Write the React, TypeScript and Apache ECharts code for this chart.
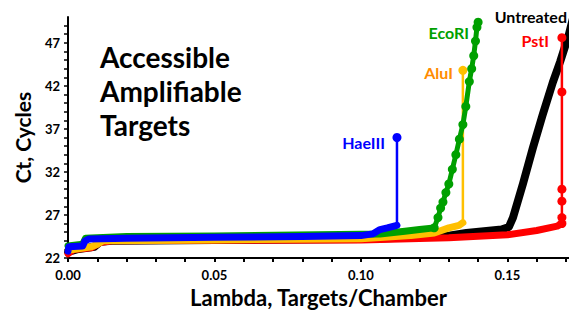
import React, { useEffect, useRef } from "react";
import * as echarts from "echarts";

// Lambda (targets/chamber) vs Ct (cycles)
const untreatedBand: number[][] = [
  [0, 22.7], [0.003, 23.0], [0.009, 23.3], [0.011, 23.9], [0.015, 24.0], [0.05, 24.1], [0.1, 24.2],
  [0.12, 24.4], [0.13, 24.6], [0.136, 24.9], [0.142, 25.1], [0.148, 25.3], [0.1505, 25.6], [0.1519, 26.7],
  [0.1553, 30.6], [0.1587, 34.8], [0.162, 38.6], [0.1655, 42.4], [0.168, 44.8], [0.171, 48.0], [0.1725, 50.0],
];
const pstIBand: number[][] = [
  [0, 22.5], [0.002, 23.0], [0.008, 23.2], [0.011, 23.8], [0.015, 24.0], [0.05, 24.05], [0.1, 24.1],
  [0.13, 24.35], [0.15, 24.7], [0.16, 25.2], [0.167, 25.7], [0.1686, 26.0],
];
const pstISpike: number[][] = [
  [0.1686, 26.0], [0.1686, 26.7], [0.1686, 28.6], [0.1686, 30.0], [0.1686, 41.3], [0.1686, 47.6],
];
const aluIBand: number[][] = [
  [0, 22.9], [0.008, 23.3], [0.010, 23.6], [0.012, 24.0], [0.05, 24.1], [0.1, 24.25], [0.117, 24.6],
  [0.125, 24.9], [0.13, 25.5], [0.1335, 25.8], [0.1348, 26.1],
];
const aluISpike: number[][] = [[0.1348, 26.1], [0.1348, 43.8]];
const ecoRIBand: number[][] = [
  [0, 23.4], [0.005, 23.6], [0.006, 24.3], [0.02, 24.5], [0.05, 24.55], [0.1, 24.75], [0.1065, 24.8],
  [0.115, 25.1], [0.12, 25.3], [0.125, 25.5],
];
const ecoRIRise: number[][] = [
  [0.125, 25.5], [0.1263, 26.7], [0.1272, 27.8], [0.128, 28.5], [0.129, 29.6], [0.130, 30.6], [0.1312, 32.3],
  [0.1324, 34.0], [0.1336, 35.8], [0.1348, 37.5], [0.1358, 39.6], [0.137, 42.5], [0.1378, 44.0],
  [0.1385, 45.5], [0.1391, 47.2], [0.1396, 48.8], [0.140, 49.4],
];
const haeIIIBand: number[][] = [
  [0, 22.8], [0.0003, 23.3], [0.005, 23.4], [0.0058, 24.0], [0.007, 24.2], [0.02, 24.3], [0.05, 24.4],
  [0.08, 24.5], [0.1, 24.6], [0.104, 24.8], [0.1065, 25.3], [0.109, 25.5], [0.1123, 25.8],
];
const haeIIISpike: number[][] = [[0.1123, 25.8], [0.1123, 36.0]];

const xMin = 0;
const xMax = 0.171;
const yMin = 22;
const yMax = 50;

const FONT = "Lato, 'Open Sans', sans-serif";
const C_BLACK = "#000000";
const C_RED = "#FF0000";
const C_YELLOW = "#FFC000";
const C_ORANGE = "#FF8C00";
const C_GREEN = "#00A000";
const C_BLUE = "#0000FF";

function band(name: string, data: number[][], color: string, width: number, z: number) {
  return {
    name,
    type: "line",
    data,
    showSymbol: false,
    symbol: "none",
    lineStyle: { color, width, cap: "round", join: "round" },
    itemStyle: { color },
    z,
    clip: true,
  };
}

function dotted(name: string, data: number[][], color: string, width: number, size: number, z: number) {
  return {
    name,
    type: "line",
    data,
    symbol: "circle",
    symbolSize: size,
    showSymbol: true,
    showAllSymbol: true,
    lineStyle: { color, width, cap: "round", join: "round" },
    itemStyle: { color },
    z,
    clip: true,
  };
}

export default function App() {
  const ref = useRef<HTMLDivElement>(null);
  useEffect(() => {
    if (!ref.current) return;
    const chart = echarts.init(ref.current, null, { renderer: "svg" });
    const labelStyle = (color: string) => ({ fill: color, font: `bold 16px ${FONT}` });
    chart.setOption({
      animation: false,
      backgroundColor: "#ffffff",
      grid: { left: 68, right: 0, top: 17, bottom: 50, containLabel: false },
      xAxis: {
        type: "value",
        min: xMin,
        max: xMax,
        interval: 0.01,
        name: "Lambda, Targets/Chamber",
        nameLocation: "middle",
        nameGap: 28,
        nameTextStyle: { fontFamily: FONT, fontWeight: "bold", fontSize: 22, color: "#000" },
        axisLine: { onZero: false, lineStyle: { color: "#000", width: 2 } },
        axisTick: { show: true, length: 4, lineStyle: { color: "#000", width: 2 } },
        axisLabel: {
          showMaxLabel: false,
          margin: 10,
          fontFamily: FONT,
          fontWeight: "bold",
          fontSize: 13,
          color: "#000",
          formatter: (v: number) => {
            const k = Math.round(v * 100);
            return k % 5 === 0 ? (k / 100).toFixed(2) : "";
          },
        },
        splitLine: { show: false },
      },
      yAxis: {
        type: "value",
        min: yMin,
        max: yMax,
        interval: 1,
        name: "Ct, Cycles",
        nameLocation: "middle",
        nameGap: 35,
        nameTextStyle: { fontFamily: FONT, fontWeight: "bold", fontSize: 21, color: "#000" },
        axisLine: { onZero: false, lineStyle: { color: "#000", width: 2 } },
        axisTick: { show: true, length: 4, lineStyle: { color: "#000", width: 1.5 } },
        axisLabel: {
          margin: 8,
          fontFamily: FONT,
          fontWeight: "bold",
          fontSize: 13,
          color: "#000",
          showMaxLabel: false,
          formatter: (v: number) => {
            const k = Math.round(v);
            return (k - 22) % 5 === 0 && k < 50 ? String(k) : "";
          },
        },
        splitLine: { show: false },
      },
      graphic: [
        { type: "text", z: 100, left: 100, top: 43, style: { text: "Accessible", fill: "#000", font: `bold 28px ${FONT}` } },
        { type: "text", z: 100, left: 100, top: 77, style: { text: "Amplifiable", fill: "#000", font: `bold 28px ${FONT}` } },
        { type: "text", z: 100, left: 100, top: 111, style: { text: "Targets", fill: "#000", font: `bold 28px ${FONT}` } },
        { type: "text", z: 100, x: 385, y: 142, style: { ...labelStyle(C_BLUE), text: "HaeIII", align: "right", verticalAlign: "middle" } },
        { type: "text", z: 100, x: 453, y: 72, style: { ...labelStyle(C_ORANGE), text: "AluI", align: "right", verticalAlign: "middle" } },
        { type: "text", z: 100, x: 469, y: 32, style: { ...labelStyle(C_GREEN), text: "EcoRI", align: "right", verticalAlign: "middle" } },
        { type: "text", z: 100, x: 567, y: 16, style: { ...labelStyle(C_BLACK), text: "Untreated", align: "right", verticalAlign: "middle" } },
        { type: "text", z: 100, x: 549, y: 40, style: { ...labelStyle(C_RED), text: "PstI", align: "right", verticalAlign: "middle" } },
      ],
      series: [
        band("Untreated", untreatedBand, C_BLACK, 8, 2),
        band("PstI", pstIBand, C_RED, 7, 3),
        dotted("PstI spike", pstISpike, C_RED, 2.5, 9, 3),
        band("AluI", aluIBand, C_YELLOW, 7, 4),
        dotted("AluI spike", aluISpike, C_YELLOW, 2.5, 1, 4),
        dotted("AluI top", [aluISpike[1]], C_YELLOW, 0, 9, 4),
        band("EcoRI", ecoRIBand, C_GREEN, 7, 5),
        dotted("EcoRI rise", ecoRIRise, C_GREEN, 5, 9, 5),
        band("HaeIII", haeIIIBand, C_BLUE, 7, 6),
        dotted("HaeIII spike", haeIIISpike, C_BLUE, 2.5, 1, 6),
        dotted("HaeIII top", [haeIIISpike[1]], C_BLUE, 0, 9, 6),
      ],
    });
    return () => chart.dispose();
  }, []);
  return <div ref={ref} style={{ width: 569, height: 313, position: "absolute", left: 0, top: 0 }} />;
}
